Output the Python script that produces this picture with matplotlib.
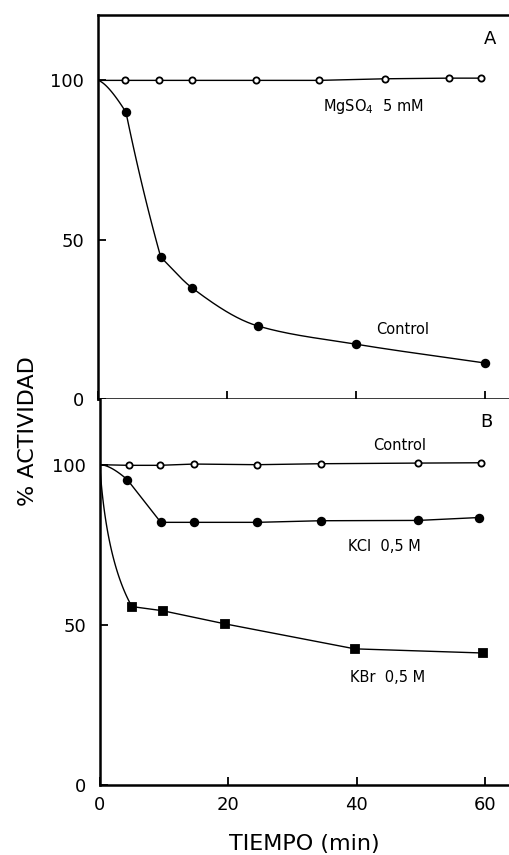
import numpy as np
import matplotlib
matplotlib.use('Agg')
import matplotlib.pyplot as plt

# Panel A data
mg_t = [0, 4.2, 9.4, 14.6, 24.5, 34.3, 44.5, 54.4, 59.4]
mg_act = [100, 100, 100, 100, 100, 100, 100.5, 100.7, 100.7]
ctrlA_t = [0, 4.3, 9.7, 14.6, 24.8, 40, 60]
ctrlA_act = [100, 90.0, 44.5, 34.8, 22.9, 17.2, 11.3]

# Panel B data
ctrlB_t = [0, 4.5, 9.3, 14.7, 24.5, 34.4, 49.6, 59.4]
ctrlB_act = [100, 99.8, 99.8, 100.2, 100, 100.3, 100.5, 100.6]
kcl_t = [0, 4.3, 9.5, 14.6, 24.5, 34.4, 49.6, 59.0]
kcl_act = [100, 95.3, 82.0, 82.0, 82.0, 82.5, 82.6, 83.5]
kbr_t = [0, 5.0, 9.8, 19.5, 39.7, 59.7]
kbr_act = [100, 55.7, 54.4, 50.3, 42.5, 41.2]


def pchip(x, y, n=300):
    # monotone cubic through the points (hand-drawn smooth look)
    x = np.asarray(x, float)
    y = np.asarray(y, float)
    h = np.diff(x)
    d = np.diff(y) / h
    m = np.zeros_like(y)
    for k in range(1, len(x) - 1):
        if d[k - 1] * d[k] > 0:
            w1 = 2 * h[k] + h[k - 1]
            w2 = h[k] + 2 * h[k - 1]
            m[k] = (w1 + w2) / (w1 / d[k - 1] + w2 / d[k])
    m[0] = d[0]
    m[-1] = d[-1]
    xs = np.linspace(x[0], x[-1], n)
    idx = np.clip(np.searchsorted(x, xs) - 1, 0, len(x) - 2)
    t = (xs - x[idx]) / h[idx]
    h00 = 2 * t**3 - 3 * t**2 + 1
    h10 = t**3 - 2 * t**2 + t
    h01 = -2 * t**3 + 3 * t**2
    h11 = t**3 - t**2
    ys = h00 * y[idx] + h10 * h[idx] * m[idx] + h01 * y[idx + 1] + h11 * h[idx] * m[idx + 1]
    return xs, ys


def bend(p0, ctrl, p1, n=60):
    # quadratic bezier for the first (curved) leg from t=0
    s = np.linspace(0, 1, n)[:, None]
    pts = (1 - s)**2 * np.array(p0) + 2 * s * (1 - s) * np.array(ctrl) + s**2 * np.array(p1)
    return pts[:, 0], pts[:, 1]


def markers(ax, t, v, marker, filled, ms):
    ax.plot(t[1:], v[1:], linestyle='none', marker=marker, ms=ms,
            mfc='black' if filled else 'white', mec='black', mew=1.3, zorder=3)


LW = 1.0
fig = plt.figure(figsize=(5.09, 8.55), dpi=100)
axA = fig.add_axes([0.193, 0.5333, 0.807, 0.4491])
axB = fig.add_axes([0.196, 0.0819, 0.804, 0.4514])

# A: MgSO4 (straight)
axA.plot(mg_t, mg_act, color='black', lw=LW, zorder=2)
markers(axA, mg_t, mg_act, 'o', False, 4.5)
# A: control (curved start, steep leg, then smooth decay)
bx, by = bend((ctrlA_t[0], ctrlA_act[0]), (1.5, 99), (ctrlA_t[1], ctrlA_act[1]))
axA.plot(bx, by, color='black', lw=LW, zorder=2)
bx, by = bend((ctrlA_t[1], ctrlA_act[1]), (6.8, 65.5), (ctrlA_t[2], ctrlA_act[2]))
axA.plot(bx, by, color='black', lw=LW, zorder=2)
sx, sy = pchip(ctrlA_t[2:], ctrlA_act[2:])
axA.plot(sx, sy, color='black', lw=LW, zorder=2)
markers(axA, ctrlA_t, ctrlA_act, 'o', True, 5.5)

# B: control
axB.plot(ctrlB_t, ctrlB_act, color='black', lw=LW, zorder=2)
markers(axB, ctrlB_t, ctrlB_act, 'o', False, 4.5)
# B: KCl
bx, by = bend((kcl_t[0], kcl_act[0]), (1.6, 100), (kcl_t[1], kcl_act[1]))
axB.plot(bx, by, color='black', lw=LW, zorder=2)
axB.plot(kcl_t[1:], kcl_act[1:], color='black', lw=LW, zorder=2)
markers(axB, kcl_t, kcl_act, 'o', True, 5.5)
# B: KBr
bx, by = bend((kbr_t[0], kbr_act[0]), (1.0, 70), (kbr_t[1], kbr_act[1]))
axB.plot(bx, by, color='black', lw=LW, zorder=2)
axB.plot(kbr_t[1:], kbr_act[1:], color='black', lw=LW, zorder=2)
markers(axB, kbr_t, kbr_act, 's', True, 5.5)

for ax in (axA, axB):
    ax.set_xlim(0, 63.7)
    ax.set_ylim(0, 120.5)
    ax.set_yticks([0, 50, 100])
    ax.set_xticks([0, 20, 40, 60])
    ax.spines['right'].set_visible(False)
    for s in ax.spines.values():
        s.set_linewidth(1.8)
    ax.tick_params(direction='in', length=6, width=1.3, labelsize=13, pad=8)
    ax.tick_params(axis='y', pad=10)

axB.spines['top'].set_visible(False)
axA.tick_params(axis='x', labelbottom=False)

axA.text(34.8, 91.8, 'MgSO$_4$  5 mM', fontsize=10.5, va='center', ha='left')
axA.text(43.1, 21.9, 'Control', fontsize=10.5, va='center', ha='left')
axA.text(60.7, 113, 'A', fontsize=13, va='center', ha='center')

axB.text(42.5, 106, 'Control', fontsize=10.5, va='center', ha='left')
axB.text(38.6, 74.4, 'KCl  0,5 M', fontsize=10.5, va='center', ha='left')
axB.text(38.9, 33.4, 'KBr  0,5 M', fontsize=10.5, va='center', ha='left')
axB.text(60.2, 113.4, 'B', fontsize=13, va='center', ha='center')

axB.set_xlabel('TIEMPO (min)', fontsize=16, labelpad=14)
fig.text(0.055, 0.496, '% ACTIVIDAD', rotation=90, fontsize=16,
         va='center', ha='center')

fig.savefig('out.png', dpi=100)
